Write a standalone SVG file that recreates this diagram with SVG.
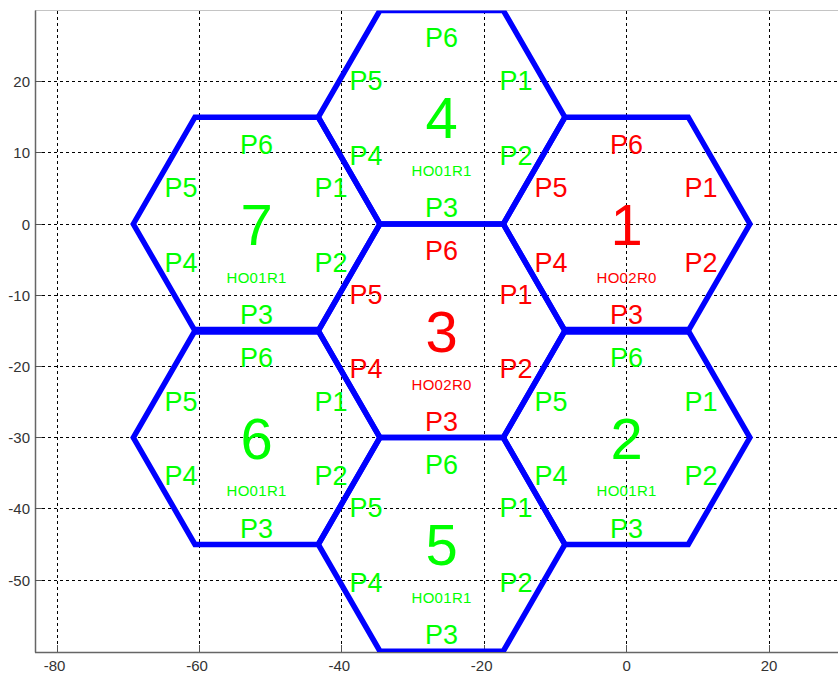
<svg xmlns="http://www.w3.org/2000/svg" width="838" height="677" viewBox="0 0 838 677">
<style>
.grid{stroke:#000;stroke-width:1;stroke-dasharray:3,3;fill:none;shape-rendering:crispEdges}
.tick{stroke:#555;stroke-width:1;shape-rendering:crispEdges}
.tl{font-family:"Liberation Sans",Arial,sans-serif;font-size:15px;fill:#333}
.hex{fill:none;stroke:#0000ff;stroke-width:5.5;stroke-linejoin:miter}
.thick{stroke:#0000ff;stroke-width:8}
.t{font-family:"Liberation Sans",Arial,sans-serif;text-anchor:middle}
.p{font-size:27px}
.n{font-size:58px}
.h{font-size:15px;letter-spacing:0.3px}
.g{fill:#00ff00}
.r{fill:#ff0000}
</style>
<defs>
<clipPath id="plot"><rect x="35" y="10.5" width="803" height="641.5"/></clipPath>
</defs>
<rect x="0" y="0" width="838" height="677" fill="#ffffff"/>
<g id="grid">
<path class="grid" d="M57.5,11V652M199.5,11V652M341.5,11V652M484.5,11V652M626.5,11V652M769.5,11V652"/>
<path class="grid" d="M36,81.5H838M36,152.5H838M36,224.5H838M36,295.5H838M36,366.5H838M36,437.5H838M36,508.5H838M36,580.5H838"/>
</g>
<g id="axes">
<line x1="35" y1="10.5" x2="838" y2="10.5" stroke="#c4c4c4" stroke-width="1.2"/>
<line x1="35.5" y1="10.5" x2="35.5" y2="652.5" stroke="#666" stroke-width="1.5"/>
<line x1="35" y1="652.5" x2="838" y2="652.5" stroke="#666" stroke-width="1.5"/>
<path class="tick" d="M57.5,652V645M199.5,652V645M341.5,652V645M484.5,652V645M626.5,652V645M769.5,652V645"/>
<path class="tick" d="M35,81.5H42M35,152.5H42M35,224.5H42M35,295.5H42M35,366.5H42M35,437.5H42M35,508.5H42M35,580.5H42"/>
<g class="tl" text-anchor="middle">
<text x="54.5" y="671">-80</text>
<text x="197" y="671">-60</text>
<text x="339.3" y="671">-40</text>
<text x="481.7" y="671">-20</text>
<text x="626.6" y="671">0</text>
<text x="769" y="671">20</text>
</g>
<g class="tl" text-anchor="end">
<text x="30" y="87.1">20</text>
<text x="30" y="158.3">10</text>
<text x="30" y="229.5">0</text>
<text x="30" y="300.7">-10</text>
<text x="30" y="371.9">-20</text>
<text x="30" y="443.1">-30</text>
<text x="30" y="514.3">-40</text>
<text x="30" y="585.5">-50</text>
</g>
</g>
<g id="cells" clip-path="url(#plot)">
<g id="hex1">
<polygon class="hex" points="503.3,224 564.94,117.2 688.26,117.2 749.9,224 688.26,330.8 564.94,330.8"/>
<line class="thick" x1="564.94" y1="330.8" x2="688.26" y2="330.8"/>
</g>
<g id="hex2">
<polygon class="hex" points="503.3,437.6 564.94,330.8 688.26,330.8 749.9,437.6 688.26,544.4 564.94,544.4"/>
</g>
<g id="hex3">
<polygon class="hex" points="318.3,330.8 379.94,224 503.26,224 564.9,330.8 503.26,437.6 379.94,437.6"/>
</g>
<g id="hex4">
<polygon class="hex" points="318.3,117.2 379.94,10.4 503.26,10.4 564.9,117.2 503.26,224 379.94,224"/>
</g>
<g id="hex5">
<polygon class="hex" points="318.3,544.4 379.94,437.6 503.26,437.6 564.9,544.4 503.26,651.2 379.94,651.2"/>
</g>
<g id="hex6">
<polygon class="hex" points="133.3,437.6 194.94,330.8 318.26,330.8 379.9,437.6 318.26,544.4 194.94,544.4"/>
</g>
<g id="hex7">
<polygon class="hex" points="133.3,224 194.94,117.2 318.26,117.2 379.9,224 318.26,330.8 194.94,330.8"/>
<line class="thick" x1="194.94" y1="330.8" x2="318.26" y2="330.8"/>
</g>
</g>
<g id="labels1" class="t r">
<text class="n" x="626.6" y="245">1</text>
<text class="h" x="626.6" y="282.7">HO02R0</text>
<text class="p" x="626.6" y="153.5">P6</text>
<text class="p" x="701.1" y="197">P1</text>
<text class="p" x="701.1" y="271.5">P2</text>
<text class="p" x="626.6" y="324">P3</text>
<text class="p" x="551.1" y="271.5">P4</text>
<text class="p" x="551.1" y="197">P5</text>
</g>
<g id="labels2" class="t g">
<text class="n" x="626.6" y="458.6">2</text>
<text class="h" x="626.6" y="496.3">HO01R1</text>
<text class="p" x="626.6" y="367.1">P6</text>
<text class="p" x="701.1" y="410.6">P1</text>
<text class="p" x="701.1" y="485.1">P2</text>
<text class="p" x="626.6" y="537.6">P3</text>
<text class="p" x="551.1" y="485.1">P4</text>
<text class="p" x="551.1" y="410.6">P5</text>
</g>
<g id="labels3" class="t r">
<text class="n" x="441.6" y="351.8">3</text>
<text class="h" x="441.6" y="389.5">HO02R0</text>
<text class="p" x="441.6" y="260.3">P6</text>
<text class="p" x="516.1" y="303.8">P1</text>
<text class="p" x="516.1" y="378.3">P2</text>
<text class="p" x="441.6" y="430.8">P3</text>
<text class="p" x="366.1" y="378.3">P4</text>
<text class="p" x="366.1" y="303.8">P5</text>
</g>
<g id="labels4" class="t g">
<text class="n" x="441.6" y="138.2">4</text>
<text class="h" x="441.6" y="175.9">HO01R1</text>
<text class="p" x="441.6" y="46.7">P6</text>
<text class="p" x="516.1" y="90.2">P1</text>
<text class="p" x="516.1" y="164.7">P2</text>
<text class="p" x="441.6" y="217.2">P3</text>
<text class="p" x="366.1" y="164.7">P4</text>
<text class="p" x="366.1" y="90.2">P5</text>
</g>
<g id="labels5" class="t g">
<text class="n" x="441.6" y="565.4">5</text>
<text class="h" x="441.6" y="603.1">HO01R1</text>
<text class="p" x="441.6" y="473.9">P6</text>
<text class="p" x="516.1" y="517.4">P1</text>
<text class="p" x="516.1" y="591.9">P2</text>
<text class="p" x="441.6" y="644.4">P3</text>
<text class="p" x="366.1" y="591.9">P4</text>
<text class="p" x="366.1" y="517.4">P5</text>
</g>
<g id="labels6" class="t g">
<text class="n" x="256.6" y="458.6">6</text>
<text class="h" x="256.6" y="496.3">HO01R1</text>
<text class="p" x="256.6" y="367.1">P6</text>
<text class="p" x="331.1" y="410.6">P1</text>
<text class="p" x="331.1" y="485.1">P2</text>
<text class="p" x="256.6" y="537.6">P3</text>
<text class="p" x="181.1" y="485.1">P4</text>
<text class="p" x="181.1" y="410.6">P5</text>
</g>
<g id="labels7" class="t g">
<text class="n" x="256.6" y="245">7</text>
<text class="h" x="256.6" y="282.7">HO01R1</text>
<text class="p" x="256.6" y="153.5">P6</text>
<text class="p" x="331.1" y="197">P1</text>
<text class="p" x="331.1" y="271.5">P2</text>
<text class="p" x="256.6" y="324">P3</text>
<text class="p" x="181.1" y="271.5">P4</text>
<text class="p" x="181.1" y="197">P5</text>
</g>
</svg>
